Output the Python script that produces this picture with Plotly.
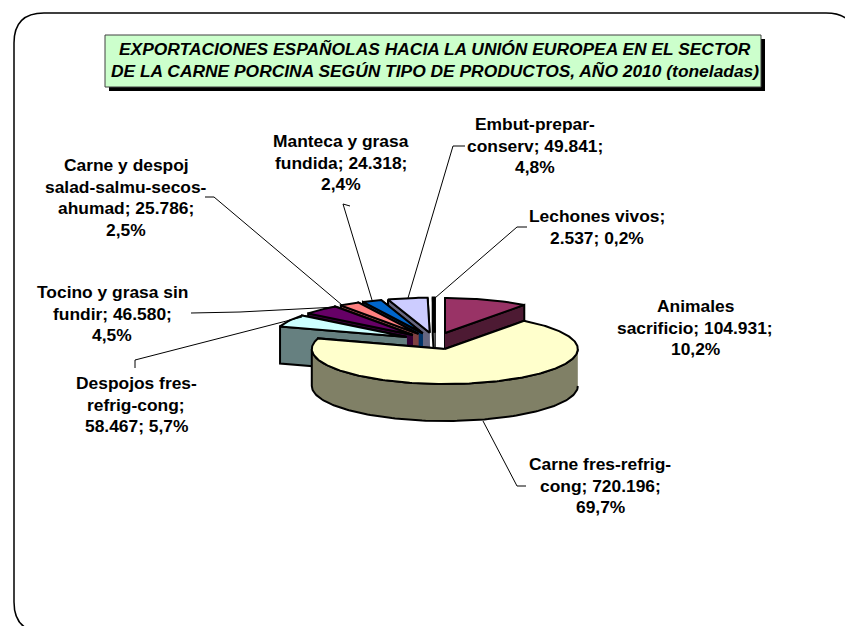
import numpy as np
import plotly.graph_objects as go

# datos del grafico
categorias = ["Animales sacrificio", "Carne fres-refrig-cong", "Despojos fres-refrig-cong",
              "Tocino y grasa sin fundir", "Carne y despoj salad-salmu-secos-ahumad",
              "Manteca y grasa fundida", "Embut-prepar-conserv", "Lechones vivos"]
toneladas = [104931, 720196, 58467, 46580, 25786, 24318, 49841, 2537]
color_tapa = ["#993366", "#FFFFCC", "#CCFFFF", "#660066", "#FF8080", "#0066CC", "#CCCCFF", "#FFFFFF"]
color_lado = ["#4D1A33", "#808066", "#668080", "#330033", "#804040", "#003366", "#666680", "#808080"]
orden_dibujo = [0, 7, 6, 5, 4, 3, 2, 1]

titulo = ["EXPORTACIONES ESPAÑOLAS HACIA LA UNIÓN EUROPEA EN EL SECTOR",
          "DE LA CARNE PORCINA SEGÚN TIPO DE PRODUCTOS, AÑO 2010 (toneladas)"]

# texto de cada etiqueta: lineas, centro x, y de la primera linea
etiquetas = [
    (["Animales", "sacrificio; 104.931;", "10,2%"], 695, 306),
    (["Carne fres-refrig-", "cong; 720.196;", "69,7%"], 600, 464),
    (["Despojos fres-", "refrig-cong;", "58.467; 5,7%"], 136, 383),
    (["Tocino y grasa sin", "fundir; 46.580;", "4,5%"], 112, 292),
    (["Carne y despoj", "salad-salmu-secos-", "ahumad; 25.786;", "2,5%"], 126, 165),
    (["Manteca y grasa", "fundida; 24.318;", "2,4%"], 341, 141),
    (["Embut-prepar-", "conserv; 49.841;", "4,8%"], 535, 124),
    (["Lechones vivos;", "2.537; 0,2%"], 597, 216),
]
guias = [
    ([483, 517, 526], [421, 486, 486]),
    ([135, 135, 302], [368, 360, 317]),
    ([191, 240, 337], [313, 312, 307]),
    ([205, 214, 342], [197, 197, 305]),
    ([350, 343, 372], [206, 204, 300]),
    ([465, 453, 408], [146, 146, 298]),
    ([527, 517, 435], [227, 227, 298]),
]

CX, CY = 435, 341
RX, RY = 133, 35
ALTO = 37
EXPLOSION = 0.24


def punto(c, ang, rx=RX, ry=RY):
    return c[0] + rx * np.sin(ang), c[1] - ry * np.cos(ang)


fig = go.Figure()


def poligono(xs, ys, color):
    fig.add_trace(go.Scatter(x=list(xs), y=list(ys), mode="lines", fill="toself", fillcolor=color,
                             line=dict(color="black", width=2), hoverinfo="skip", showlegend=False))


fracciones = np.array(toneladas) / sum(toneladas)
limites = np.concatenate([[0], np.cumsum(fracciones)]) * 2 * np.pi

for i in orden_dibujo:
    a1, a2 = limites[i], limites[i + 1]
    medio = (a1 + a2) / 2
    c = punto((CX, CY), medio, RX * EXPLOSION, RY * EXPLOSION)
    # caras radiales, primero la de atras
    for a in sorted((a1, a2), key=lambda v: punto(c, v)[1]):
        x, y = punto(c, a)
        poligono([c[0], x, x, c[0]], [c[1], y, y + ALTO, c[1] + ALTO], color_lado[i])
    # cara exterior, solo la parte delantera
    f1, f2 = max(a1, np.pi / 2), min(a2, 3 * np.pi / 2)
    if f2 > f1:
        t = np.linspace(f1, f2, 120)
        x, y = punto(c, t)
        poligono(np.concatenate([x, x[::-1]]), np.concatenate([y, y[::-1] + ALTO]), color_lado[i])
    # tapa
    t = np.linspace(a1, a2, max(3, int((a2 - a1) * 60)))
    x, y = punto(c, t)
    poligono(np.concatenate([[c[0]], x, [c[0]]]), np.concatenate([[c[1]], y, [c[1]]]), color_tapa[i])

for gx, gy in guias:
    fig.add_trace(go.Scatter(x=gx, y=gy, mode="lines", line=dict(color="black", width=1),
                             hoverinfo="skip", showlegend=False))

anotaciones = []
for lineas, x, y in etiquetas:
    for n, linea in enumerate(lineas):
        anotaciones.append(dict(x=x, y=y + n * 21.7, text="<b>%s</b>" % linea, showarrow=False,
                                xref="x", yref="y",
                                font=dict(family="Liberation Sans", size=17.4, color="black")))
for n, linea in enumerate(titulo):
    anotaciones.append(dict(x=435, y=49 + n * 22, text="<b><i>%s</i></b>" % linea, showarrow=False,
                            xref="x", yref="y",
                            font=dict(family="Liberation Sans", size=17.4, color="black")))

marco = "M 44 13 L 826 13 Q 856 13 856 43 L 856 602 Q 856 632 826 632 L 44 632 Q 14 632 14 602 L 14 43 Q 14 13 44 13 Z"
formas = [
    dict(type="path", path=marco, xref="x", yref="y", line=dict(color="black", width=1.5), layer="below"),
    dict(type="rect", x0=109, y0=39, x1=765, y1=91, xref="x", yref="y", fillcolor="black",
         line=dict(width=0), layer="below"),
    dict(type="rect", x0=105, y0=35, x1=761, y1=87, xref="x", yref="y", fillcolor="#CCFFCC",
         line=dict(color="#404040", width=1), layer="below"),
]

fig.update_layout(
    width=845, height=626, margin=dict(l=0, r=0, t=0, b=0),
    paper_bgcolor="white", plot_bgcolor="white",
    xaxis=dict(range=[0, 845], visible=False, fixedrange=True),
    yaxis=dict(range=[626, 0], visible=False, fixedrange=True),
    annotations=anotaciones, shapes=formas, showlegend=False,
)

fig.write_html("out.html", config=dict(displayModeBar=False),
               post_script="document.body.style.margin='0';document.documentElement.style.overflow='hidden';")
